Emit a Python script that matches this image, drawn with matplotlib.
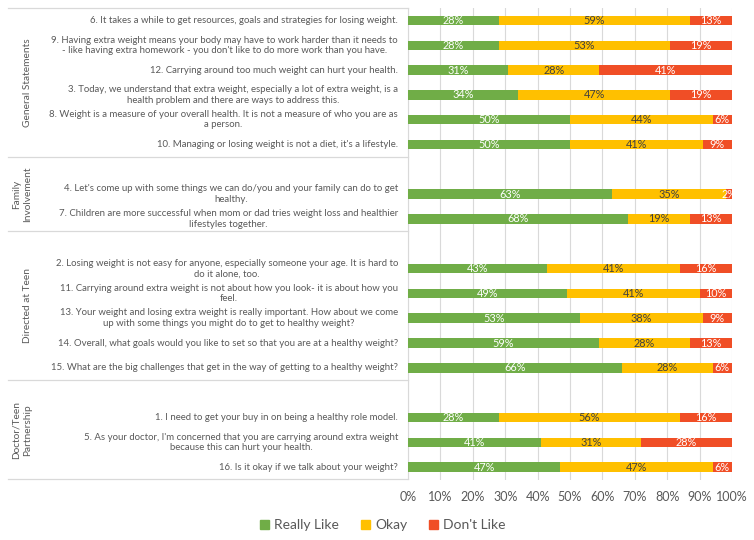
import numpy as np
import matplotlib
matplotlib.use('Agg')
import matplotlib.pyplot as plt
from matplotlib import transforms
from matplotlib.patches import Patch

plt.rcParams['font.family'] = ['Lato', 'DejaVu Sans']

# statements, top to bottom; '' marks an empty slot at the top of a group
statements = [
    "6. It takes a while to get resources, goals and strategies for losing weight.",
    "9. Having extra weight means your body may have to work harder than it needs to\n"
    "- like having extra homework - you don't like to do more work than you have.",
    "12. Carrying around too much weight can hurt your health.",
    "3. Today, we understand that extra weight, especially a lot of extra weight, is a\n"
    "health problem and there are ways to address this.",
    "8. Weight is a measure of your overall health. It is not a measure of who you are as\n"
    "a person.",
    "10. Managing or losing weight is not a diet, it's a lifestyle.",
    "",
    "4. Let's come up with some things we can do/you and your family can do to get\n"
    "healthy.",
    "7. Children are more successful when mom or dad tries weight loss and healthier\n"
    "lifestyles together.",
    "",
    "2. Losing weight is not easy for anyone, especially someone your age. It is hard to\n"
    "do it alone, too.",
    "11. Carrying around extra weight is not about how you look- it is about how you\n"
    "feel.",
    "13. Your weight and losing extra weight is really important. How about we come\n"
    "up with some things you might do to get to healthy weight?",
    "14. Overall, what goals would you like to set so that you are at a healthy weight?",
    "15. What are the big challenges that get in the way of getting to a healthy weight?",
    "",
    "1. I need to get your buy in on being a healthy role model.",
    "5. As your doctor, I'm concerned that you are carrying around extra weight\n"
    "because this can hurt your health.",
    "16. Is it okay if we talk about your weight?",
]
really_like = [28, 28, 31, 34, 50, 50, None, 63, 68, None, 43, 49, 53, 59, 66, None, 28, 41, 47]
okay = [59, 53, 28, 47, 44, 41, None, 35, 19, None, 41, 41, 38, 28, 28, None, 56, 31, 47]
dont_like = [13, 19, 41, 19, 6, 9, None, 2, 13, None, 16, 10, 9, 13, 6, None, 16, 28, 6]

groups = ["General Statements", "Family\nInvolvement", "Directed at Teen", "Doctor/Teen\nPartnership"]
group_bounds = [(-0.5, 5.5), (5.5, 8.5), (8.5, 14.5), (14.5, 18.5)]

series_names = ["Really Like", "Okay", "Don't Like"]
colors = ['#70AD47', '#FFC000', '#F04E26']
label_colors = ['white', '#404040', 'white']
grey = '#595959'
line_grey = '#D9D9D9'

W, H = 754, 540
fig = plt.figure(figsize=(W / 100, H / 100), dpi=100)
ax = fig.add_axes([408 / W, 1 - 479.5 / H, 324 / W, (479.5 - 8) / H])

rows = [i for i, s in enumerate(statements) if s]
y = np.array(rows)
vals = [np.array([v[i] for i in rows], dtype=float) for v in (really_like, okay, dont_like)]

left = np.zeros(len(rows))
for v, c, lc, name in zip(vals, colors, label_colors, series_names):
    ax.barh(y, v, left=left, height=0.38, color=c, label=name, zorder=3)
    for yy, l, w in zip(y, left, v):
        ax.text(l + w / 2, yy, '{:.0f}%'.format(w), ha='center', va='center',
                color=lc, fontsize=7.8, zorder=4)
    left += v

ax.set_xlim(0, 100)
ax.set_ylim(18.5, -0.5)
ax.set_xticks(np.arange(0, 101, 10))
ax.set_xticklabels(['{}%'.format(t) for t in range(0, 101, 10)])
ax.tick_params(axis='x', length=0, pad=8, labelsize=9, labelcolor=grey)
ax.set_yticks([])
ax.grid(axis='x', color=line_grey, linewidth=0.8, zorder=0)
for s in ['top', 'right', 'bottom']:
    ax.spines[s].set_visible(False)
ax.spines['left'].set_color(line_grey)
ax.spines['left'].set_linewidth(0.8)

trans = transforms.blended_transform_factory(fig.transFigure, ax.transData)

for i in rows:
    ax.text(398 / W, i, statements[i], transform=trans, ha='right', va='center',
            multialignment='center', fontsize=6.9, color=grey, linespacing=1.2)

bounds = sorted(set(b for g in group_bounds for b in g))
for b in bounds:
    ax.plot([8 / W, 408 / W], [b, b], transform=trans, color=line_grey,
            linewidth=0.9, clip_on=False)

for name, (lo, hi) in zip(groups, group_bounds):
    xpos = 22 if '\n' in name else 28
    ax.text(xpos / W, (lo + hi) / 2, name, transform=trans, rotation=90,
            ha='center', va='center', fontsize=7.3, color=grey, linespacing=1.25)

handles = [Patch(color=c) for c in colors]
fig.legend(handles, series_names, loc='center', bbox_to_anchor=(383 / W, 1 - 525 / H),
           ncol=3, frameon=False, fontsize=10, labelcolor=grey,
           handlelength=0.6, handleheight=0.6, handletextpad=0.4, columnspacing=1.6)

fig.savefig('out.png', dpi=100)
